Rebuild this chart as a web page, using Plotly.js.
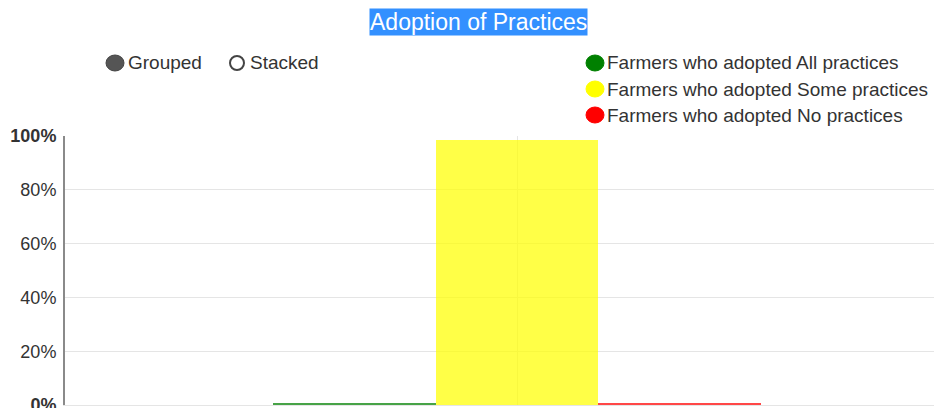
<!DOCTYPE html>
<html>
<head>
<meta charset="utf-8">
<script src="https://cdn.plot.ly/plotly-3.0.1.min.js"></script>
<style>html,body{margin:0;padding:0;background:#fff;}#chart{width:934px;height:408px;}</style>
</head>
<body>
<div id="chart"></div>
<script>
// ---- data ----
const categories = ["Farmers"];
const seriesNames = ["Farmers who adopted All practices", "Farmers who adopted Some practices", "Farmers who adopted No practices"];
const seriesColors = ["#008000", "#ffff00", "#ff0000"];
const allPractices = [0.8];
const somePractices = [98.4];
const noPractices = [0.8];
const yTickValues = [0, 20, 40, 60, 80, 100];
const yTickLabels = ["<b>0%</b>", "20%", "40%", "60%", "80%", "<b>100%</b>"];
const modeLabels = ["Grouped", "Stacked"];
const chartTitle = "Adoption of Practices";

// ---- layout helpers (pixel -> paper) ----
const W = 934, H = 408;
const M = {l: 65, r: 0, t: 136, b: 3};
const PW = W - M.l - M.r, PH = H - M.t - M.b;
const px = x => (x - M.l) / PW;
const py = y => (H - M.b - y) / PH;

const seriesValues = [allPractices, somePractices, noPractices];
const traces = seriesValues.map((vals, i) => ({
  type: "bar",
  x: categories,
  y: vals,
  name: seriesNames[i],
  marker: {color: seriesColors[i], opacity: 0.72, line: {width: 0}},
  showlegend: false,
  hoverinfo: "skip"
}));

const FONT = "Liberation Sans, Arial, sans-serif";
const annotations = [];
const shapes = [];

// title with highlight background
annotations.push({
  xref: "paper", yref: "paper", x: px(478), y: py(22),
  xanchor: "center", yanchor: "middle", showarrow: false,
  text: chartTitle, bgcolor: "#3390ff", borderpad: 0,
  font: {family: FONT, size: 23, color: "#ffffff"}
});

// Grouped / Stacked controls
const radioX = [115, 237];
modeLabels.forEach((lab, i) => {
  shapes.push({
    type: "circle", xref: "paper", yref: "paper",
    xsizemode: "pixel", ysizemode: "pixel",
    xanchor: px(radioX[i]), yanchor: py(63),
    x0: i === 0 ? -9 : -7, x1: i === 0 ? 9 : 7,
    y0: i === 0 ? -8 : -7, y1: i === 0 ? 8 : 7,
    fillcolor: i === 0 ? "#555555" : "#ffffff",
    line: {color: "#444444", width: i === 0 ? 1 : 2}
  });
  annotations.push({
    xref: "paper", yref: "paper", x: px(radioX[i] + 11), y: py(63),
    xanchor: "left", yanchor: "middle", showarrow: false,
    text: lab, font: {family: FONT, size: 19, color: "#333333"}
  });
});

// series legend
const legY = [63, 89, 115];
seriesNames.forEach((nm, i) => {
  shapes.push({
    type: "circle", xref: "paper", yref: "paper",
    xsizemode: "pixel", ysizemode: "pixel",
    xanchor: px(595), yanchor: py(legY[i]),
    x0: -9, x1: 9, y0: -8, y1: 8,
    fillcolor: seriesColors[i], line: {color: seriesColors[i], width: 1}
  });
  annotations.push({
    xref: "paper", yref: "paper", x: px(605), y: py(legY[i]),
    xanchor: "left", yanchor: "middle", showarrow: false,
    text: nm, font: {family: FONT, size: 19, color: "#333333"}
  });
});

const layout = {
  width: W, height: H,
  margin: M,
  paper_bgcolor: "#ffffff", plot_bgcolor: "#ffffff",
  barmode: "group", bargap: 0, bargroupgap: 0,
  showlegend: false,
  font: {family: FONT, color: "#333333"},
  xaxis: {
    type: "category",
    range: [-0.928, 0.856],
    showgrid: true, gridcolor: "#e5e5e5", gridwidth: 1,
    showticklabels: false, ticks: "",
    showline: true, linecolor: "#e5e5e5", linewidth: 1,
    zeroline: false, fixedrange: true
  },
  yaxis: {
    range: [0, 100],
    tickvals: yTickValues, ticktext: yTickLabels,
    showgrid: true, gridcolor: "#e5e5e5", gridwidth: 1,
    showline: true, linecolor: "#8a8a8a", linewidth: 2,
    ticks: "", ticklabelstandoff: 3, ticklabeloverflow: "allow",
    tickfont: {family: FONT, size: 18, color: "#333333"},
    zeroline: false, fixedrange: true
  },
  annotations: annotations,
  shapes: shapes
};

Plotly.newPlot("chart", traces, layout, {staticPlot: true, displayModeBar: false});
</script>
</body>
</html>
